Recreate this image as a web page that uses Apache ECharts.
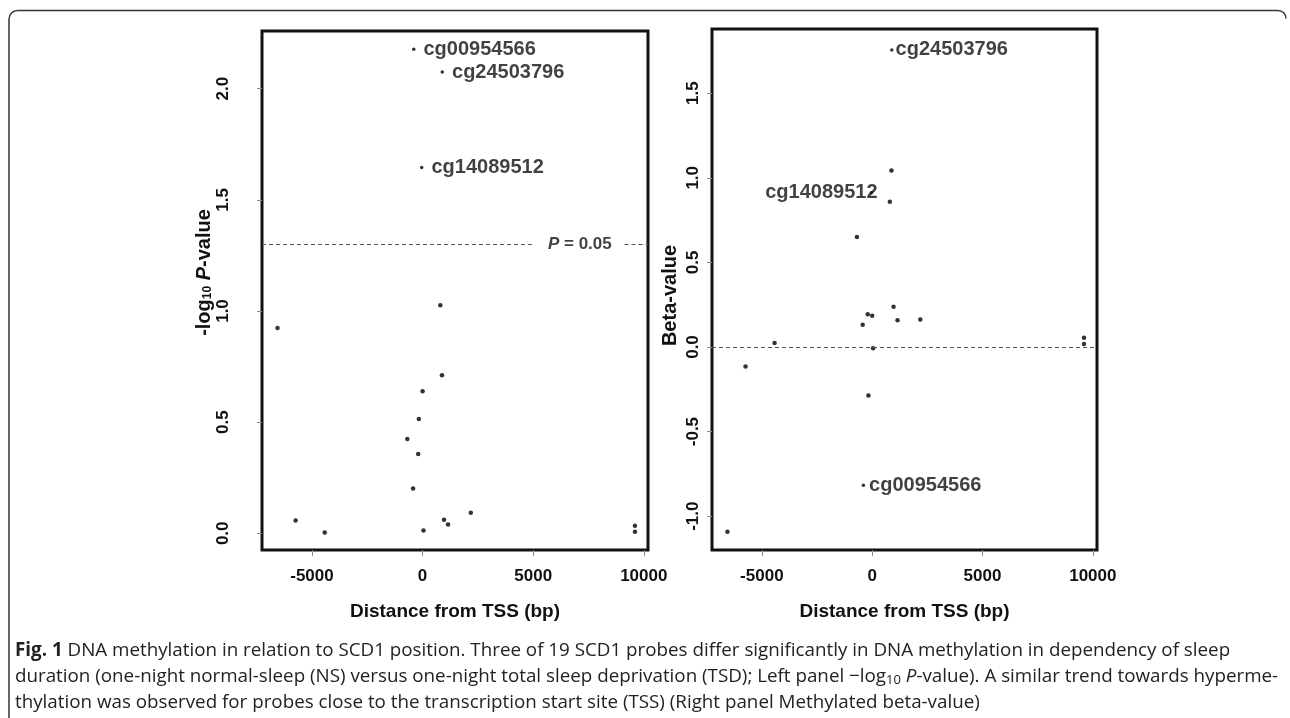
<!DOCTYPE html>
<html>
<head>
<meta charset="utf-8">
<script src="https://cdn.jsdelivr.net/npm/echarts@6/dist/echarts.min.js"></script>
<style>
html,body{margin:0;padding:0;background:#fff;}
#chart{width:1290px;height:718px;}
</style>
</head>
<body>
<div id="chart"></div>
<script>
// ---- data ----
var distance = [-6560, -5740, -4425, -690, -430, -400, -200, -170, -40, 0, 40, 800, 875, 890, 970, 1150, 2180, 9600, 9600];
var negLogP  = [0.923, 0.058, 0.004, 0.424, 0.201, 2.177, 0.357, 0.514, 1.646, 0.639, 0.013, 1.026, 0.711, 2.075, 0.061, 0.040, 0.093, 0.034, 0.007];
var betaVal  = [-1.092, -0.116, 0.024, 0.650, 0.132, -0.818, 0.193, -0.287, 0.912, 0.185, -0.008, 0.858, 1.043, 1.756, 0.238, 0.158, 0.162, 0.054, 0.018];
var probeName = ['', '', '', '', '', 'cg00954566', '', '', 'cg14089512', '', '', '', '', 'cg24503796', '', '', '', '', ''];
var xTicks = [-5000, 0, 5000, 10000];
var yTicksLeft = [0, 0.5, 1, 1.5, 2];
var yTicksRight = [-1, -0.5, 0, 0.5, 1, 1.5];
var pThreshold = 1.30103; // -log10(0.05)

var FONT = '"Liberation Sans", Arial, sans-serif';
var CAP = '"Open Sans", sans-serif';
var INK = '#111';

function pts(yArr, labelled) {
  var out = [];
  for (var i = 0; i < distance.length; i++) {
    if ((probeName[i] !== '') === labelled) out.push({value: [distance[i], yArr[i]], name: probeName[i]});
  }
  return out;
}

var chart = echarts.init(document.getElementById('chart'), null, {renderer: 'canvas'});

function xAxisCfg(gi) {
  return {
    gridIndex: gi, type: 'value', min: -7260, max: 10190,
    axisLine: {show: false, onZero: false},
    axisTick: {show: true, customValues: xTicks, length: 6, lineStyle: {color: '#888', width: 1}},
    axisLabel: {customValues: xTicks, margin: 18, color: INK, fontFamily: FONT, fontWeight: 'bold', fontSize: 17,
      formatter: function (v) { return String(v); }},
    splitLine: {show: false},
    name: 'Distance from TSS (bp)', nameLocation: 'middle', nameGap: 52,
    nameTextStyle: {color: INK, fontFamily: FONT, fontWeight: 'bold', fontSize: 19}
  };
}
function yAxisCfg(gi, min, max, ticks, name, margin, gap, pad) {
  return {
    gridIndex: gi, type: 'value', min: min, max: max,
    axisLine: {show: false, onZero: false},
    axisTick: {show: true, customValues: ticks, length: 5, lineStyle: {color: '#888', width: 1}},
    axisLabel: {customValues: ticks, rotate: 90, margin: margin, color: INK, fontFamily: FONT, fontWeight: 'bold', fontSize: 17,
      formatter: function (v) { return v.toFixed(1); }},
    splitLine: {show: false},
    name: name, nameLocation: 'middle', nameGap: gap, nameRotate: 90,
    nameTextStyle: {color: INK, fontFamily: FONT, fontWeight: 'bold', fontSize: 20, padding: pad,
      rich: {
        sub: {fontSize: 12, fontFamily: FONT, fontWeight: 'bold', color: INK, padding: [8, 0, 0, 0]},
        i: {fontStyle: 'italic', fontSize: 20, fontFamily: FONT, fontWeight: 'bold', color: INK}
      }}
  };
}

var dotStyle = {color: '#000'};
var probeLabel = {show: true, fontFamily: FONT, fontWeight: 'bold', fontSize: 20, color: INK};

var option = {
  animation: false,
  backgroundColor: '#fff',
  grid: [
    {left: 262, top: 31, width: 386, height: 519, show: true, borderColor: INK, borderWidth: 3, backgroundColor: 'transparent'},
    {left: 712, top: 29, width: 385, height: 521, show: true, borderColor: INK, borderWidth: 3, backgroundColor: 'transparent'}
  ],
  xAxis: [xAxisCfg(0), xAxisCfg(1)],
  yAxis: [
    yAxisCfg(0, -0.0751, 2.2595, yTicksLeft, '-log{sub|10} {i|P}-value', 30, 41, [0, 0, 0, 36]),
    yAxisCfg(1, -1.2000, 1.8796, yTicksRight, 'Beta-value', 10, 32, [0, 12, 0, 0])
  ],
  series: [
    {type: 'scatter', xAxisIndex: 0, yAxisIndex: 0, symbolSize: 4.5, itemStyle: dotStyle, data: pts(negLogP, false),
      markLine: {silent: true, symbol: 'none', label: {show: false},
        lineStyle: {type: [4, 3], color: '#555', width: 1},
        data: [
          [{coord: [-7260, pThreshold]}, {coord: [4960, pThreshold]}],
          [{coord: [9130, pThreshold]}, {coord: [10190, pThreshold]}]
        ]}},
    {type: 'scatter', xAxisIndex: 0, yAxisIndex: 0, symbolSize: 3.5, itemStyle: dotStyle, data: pts(negLogP, true),
      label: Object.assign({position: 'right', distance: 8, formatter: '{b}'}, probeLabel)},
    {type: 'scatter', xAxisIndex: 0, yAxisIndex: 0, symbolSize: 0, silent: true,
      data: [{value: [7108, pThreshold]}],
      label: {show: true, position: 'inside', formatter: '{i|P} = 0.05', fontFamily: FONT, fontWeight: 'bold', fontSize: 17, color: INK,
        rich: {i: {fontStyle: 'italic', fontWeight: 'bold', fontFamily: FONT, fontSize: 17, color: INK}}}},
    {type: 'scatter', xAxisIndex: 1, yAxisIndex: 1, symbolSize: 4.5, itemStyle: dotStyle, data: pts(betaVal, false),
      markLine: {silent: true, symbol: 'none', label: {show: false},
        lineStyle: {type: [4, 3], color: '#555', width: 1},
        data: [{yAxis: 0}]}},
    {type: 'scatter', xAxisIndex: 1, yAxisIndex: 1, symbolSize: 3.5, itemStyle: dotStyle, data: pts(betaVal, true).map(function (d) {
        if (d.name === 'cg14089512') d.label = {position: 'left', distance: 0, offset: [8, 0]};
        else if (d.name === 'cg24503796') d.label = {position: 'right', distance: 2};
        else d.label = {position: 'right', distance: 4};
        return d;
      }),
      label: Object.assign({formatter: '{b}'}, probeLabel)}
  ],
  graphic: [
    {type: 'line', silent: true, shape: {x1: 9, y1: 718, x2: 9, y2: 19}, style: {stroke: '#333', lineWidth: 1.5}},
    {type: 'arc', silent: true, shape: {cx: 17.5, cy: 19, r: 8.5, startAngle: Math.PI, endAngle: Math.PI * 1.5, clockwise: true}, style: {stroke: '#333', lineWidth: 1.5, fill: null}},
    {type: 'line', silent: true, shape: {x1: 17.5, y1: 10.5, x2: 1278, y2: 10.5}, style: {stroke: '#333', lineWidth: 1.5}},
    {type: 'arc', silent: true, shape: {cx: 1278, cy: 18.5, r: 8, startAngle: Math.PI * 1.5, endAngle: Math.PI * 2, clockwise: true}, style: {stroke: '#333', lineWidth: 1.5, fill: null}},
    {type: 'text', left: 15, top: 641, silent: true, style: {
      text: '{b|Fig. 1} DNA methylation in relation to SCD1 position. Three of 19 SCD1 probes differ significantly in DNA methylation in dependency of sleep',
      font: '18.8px ' + CAP, fill: '#222',
      rich: {b: {fontWeight: 'bold', fontFamily: CAP, fontSize: 18.8, fill: '#222'}}}},
    {type: 'text', left: 15, top: 667, silent: true, style: {
      text: 'duration (one-night normal-sleep (NS) versus one-night total sleep deprivation (TSD); Left panel \u2212log{s|10} {i|P}-value). A similar trend towards hyperme-',
      font: '18.8px ' + CAP, fill: '#222',
      rich: {s: {fontSize: 13, fontFamily: CAP, fill: '#222', padding: [8, 0, 0, 0]},
             i: {fontStyle: 'italic', fontFamily: CAP, fontSize: 18.8, fill: '#222'}}}},
    {type: 'text', left: 15, top: 693, silent: true, style: {
      text: 'thylation was observed for probes close to the transcription start site (TSS) (Right panel Methylated beta-value)',
      font: '18.8px ' + CAP, fill: '#222'}}
  ]
};
chart.setOption(option);
</script>
</body>
</html>
